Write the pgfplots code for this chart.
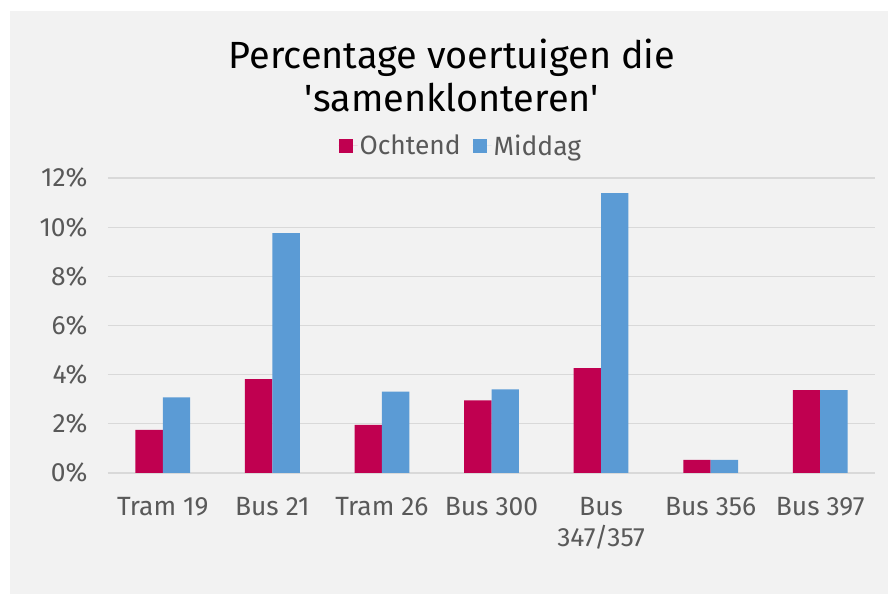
\documentclass[border=0pt]{standalone}
\usepackage{fontspec}
\setmainfont{Fira Sans}
\usepackage{pgfplots}
\pgfplotsset{compat=1.18}

\definecolor{ochtend}{HTML}{C00050}
\definecolor{middag}{HTML}{5B9BD5}
\definecolor{tekst}{HTML}{595959}
\definecolor{raster}{HTML}{D9D9D9}
\definecolor{paneel}{HTML}{F2F2F2}

\begin{document}
\begin{tikzpicture}[x=1bp,y=1bp]
    % origin = lower left of the axis box (pixel 108,473 of the reference)
    \fill[white] (-108,-121) rectangle (780,473);
    \useasboundingbox (-108,-121) rectangle (780,473);
    \fill[paneel] (-98,-121) rectangle (780,462);

    \node[anchor=base, font=\fontsize{38}{44}\selectfont, text=black] at (344,404) {Percentage voertuigen die};
    \node[anchor=base, font=\fontsize{38}{44}\selectfont, text=black] at (344,361) {\textquotesingle samenklonteren\textquotesingle};

    \begin{axis}[
            scale only axis,
            width=767bp,
            height=295bp,
            ybar=0pt,
            bar width=0.25,
            xmin=-0.5, xmax=6.5,
            ymin=0, ymax=12,
            xtick=data,
            xticklabels={Tram 19, Bus 21, Tram 26, Bus 300, {Bus\\347/357}, Bus 356, Bus 397},
            ytick={0,2,4,6,8,10,12},
            yticklabel={\pgfmathprintnumber{\tick}\%},
            /pgf/number format/assume math mode=true,
            major tick length=0pt,
            axis line style={draw=none},
            ymajorgrids,
            grid style={raster, line width=1.3bp},
            tick label style={font=\fontsize{26.5}{31}\selectfont, text=tekst},
            yticklabel style={xshift=-17bp},
            xticklabel style={align=center, yshift=-21bp},
            legend columns=2,
            legend style={
                    at={(0.46,1)}, anchor=south, yshift=17bp,
                    draw=none, fill=none,
                    font=\fontsize{26.5}{31}\selectfont, text=tekst,
                    /tikz/every even column/.append style={column sep=10bp},
                },
            legend image code/.code={
                    \fill (0bp,-7bp) rectangle (14bp,7bp);
                    \path (0bp,0bp) -- (19bp,0bp);
                },
        ]
        \addplot[fill=ochtend, draw=none] coordinates {
                (0,1.75) (1,3.82) (2,1.96) (3,2.95) (4,4.27) (5,0.53) (6,3.37)
            };
        \addplot[fill=middag, draw=none] coordinates {
                (0,3.08) (1,9.76) (2,3.31) (3,3.40) (4,11.38) (5,0.53) (6,3.37)
            };
        \legend{Ochtend, Middag}
    \end{axis}
\end{tikzpicture}
\end{document}
